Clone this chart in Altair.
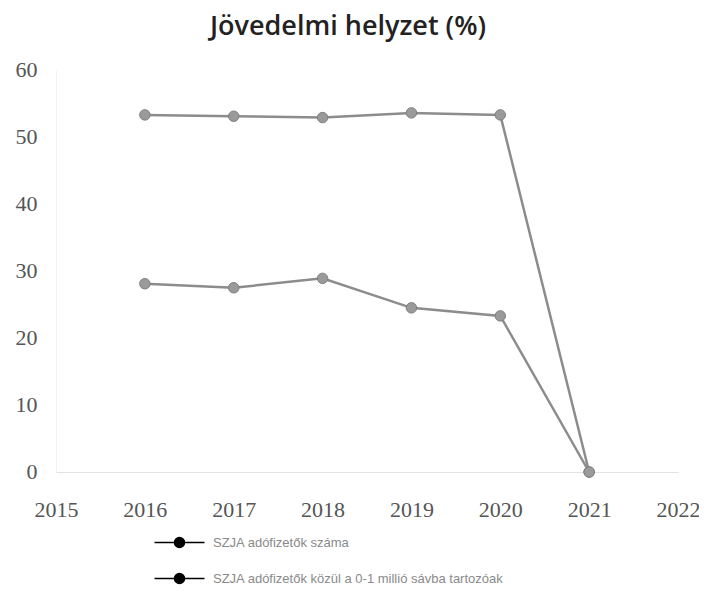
import altair as alt
import pandas as pd

years = [2016, 2017, 2018, 2019, 2020, 2021]
series_names = [
    "SZJA adófizetők száma",
    "SZJA adófizetők közül a 0-1 millió sávba tartozóak",
]
s1_values = [53.3, 53.1, 52.9, 53.6, 53.3, 0.0]
s2_values = [28.1, 27.5, 28.9, 24.5, 23.3, 0.0]
x_ticks = [2015, 2016, 2017, 2018, 2019, 2020, 2021, 2022]
y_ticks = [0, 10, 20, 30, 40, 50, 60]

rows = []
for name, vals in zip(series_names, [s1_values, s2_values]):
    for yr, v in zip(years, vals):
        rows.append({"Év": yr, "Érték": v, "Sorozat": name})
df = pd.DataFrame(rows)

legend_path = "M-5,0L5,0M-1,0A1,1,0,1,1,1,0A1,1,0,1,1,-1,0Z"

x_enc = alt.X(
    "Év:Q",
    scale=alt.Scale(domain=[2015, 2022], nice=False),
    axis=alt.Axis(
        values=x_ticks, format="d", title=None, grid=False, ticks=False,
        domainColor="#e2e2e2", domainWidth=1, labelFlush=False,
        labelFont="Liberation Serif", labelFontSize=22, labelColor="#555555",
        labelPadding=27,
    ),
)
y_enc = alt.Y(
    "Érték:Q",
    scale=alt.Scale(domain=[0, 60], nice=False),
    axis=alt.Axis(
        values=y_ticks, title=None, grid=False, ticks=False,
        domainColor="#f2f2f2", labelFlush=False,
        labelFont="Liberation Serif", labelFontSize=22, labelColor="#555555",
        labelPadding=19, labelOffset=-1,
    ),
)

base = alt.Chart(df).encode(x=x_enc, y=y_enc, detail="Sorozat:N")
lines = base.mark_line(strokeWidth=2.5, color="#8c8c8c")
points = base.mark_circle(size=110, opacity=1, color="#9a9a9a", stroke="#7f7f7f", strokeWidth=1)

legend_layer = (
    alt.Chart(df)
    .transform_filter("false")
    .mark_line(strokeWidth=1.5)
    .encode(
        color=alt.Color(
            "Sorozat:N",
            scale=alt.Scale(domain=series_names, range=["#000000", "#000000"]),
            legend=alt.Legend(
                title=None, orient="none", legendX=117, legendY=466, direction="vertical",
                symbolType=legend_path, symbolSize=100, symbolStrokeWidth=1.5,
                symbolFillColor="#000000", symbolStrokeColor="#000000",
                labelFont="Liberation Sans", labelFontSize=13, labelColor="#8a8a8a",
                labelOffset=27, rowPadding=19, labelLimit=500,
            ),
        )
    )
)

chart = (
    alt.layer(lines, points, legend_layer)
    .properties(
        width=622,
        height=402,
        autosize=alt.AutoSizeParams(type="none"),
        padding={"left": 48, "top": 62, "right": 21, "bottom": 113},
        title=alt.TitleParams(
            "Jövedelmi helyzet (%)", font="Open Sans", fontSize=27, fontWeight=600,
            color="#222222", anchor="middle", dx=-19, offset=-10, baseline="bottom",
        ),
    )
    .configure_view(stroke=None)
)

chart.save("out.html", embed_options={"renderer": "svg", "actions": False})
